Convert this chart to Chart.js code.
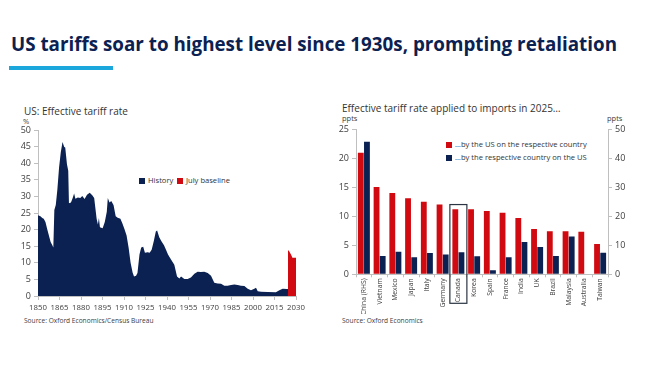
<!doctype html>
<html>
<head>
<meta charset="UTF-8">
<title>US tariffs</title>
<script src="https://cdn.jsdelivr.net/npm/chart.js@4.4.1/dist/chart.umd.min.js"></script>
<style>
	body { margin: 0; width: 650px; height: 365px; background: #fff; position: relative; overflow: hidden; font-family: "Open Sans", sans-serif; color: #404040; }
	.abs { position: absolute; white-space: nowrap; }
	#headline { left: 11px; top: 34px; font-size: 20px; line-height: 20px; font-weight: 700; color: #0b2151; transform-origin: left center; }
	#bar { left: 9px; top: 66px; width: 104px; height: 4px; background: #1ba6dc; }
	.sub { font-size: 10px; line-height: 12px; color: #333; }
	.unit { font-size: 7.5px; line-height: 8px; color: #404040; }
	.src { font-size: 6.6px; line-height: 8px; color: #404040; }
	.leg { font-size: 7.6px; line-height: 10px; color: #333; }
	.sq { display: inline-block; width: 6px; height: 6px; margin-right: 3px; vertical-align: -0.5px; }
	canvas { position: absolute; }
</style>
</head>
<body>
<div id="headline" class="abs">US tariffs soar to highest level since 1930s, prompting retaliation</div>
<div id="bar" class="abs"></div>

<div class="abs sub" style="left:24px; top:105px;">US: Effective tariff rate</div>
<div class="abs unit" style="left:23px; top:117px;">%</div>
<div class="abs leg" style="left:139px; top:175px;"><span class="sq" style="background:#0b2151"></span>History</div>
<div class="abs leg" style="left:177px; top:175px;"><span class="sq" style="background:#d10a11"></span>July baseline</div>
<div class="abs src" style="left:24px; top:317px;">Source: Oxford Economics/Census Bureau</div>
<canvas id="left-chart" width="322" height="195" style="left:0; top:120px;"></canvas>

<div class="abs sub" style="left:342px; top:102px;">Effective tariff rate applied to imports in 2025…</div>
<div class="abs unit" style="left:342px; top:114px;">ppts</div>
<div class="abs unit" style="left:607px; top:114px;">ppts</div>
<div class="abs leg" style="left:446px; top:139px;"><span class="sq" style="background:#d10a11"></span>…by the US on the respective country</div>
<div class="abs leg" style="left:446px; top:152px;"><span class="sq" style="background:#0b2151"></span>…by the respective country on the US</div>
<div class="abs src" style="left:342px; top:317px;">Source: Oxford Economics</div>
<canvas id="right-chart" width="320" height="194" style="left:330px; top:120px;"></canvas>

<script>
	// left chart: effective tariff rate, %
	var histYears = [1850, 1851.7, 1853, 1854, 1855.2, 1856.4, 1857.6, 1858.8, 1860, 1860.7, 1861.4, 1862.4, 1863.5, 1864.7, 1865.9, 1867.1, 1868.3, 1869, 1870.2, 1871.1, 1871.6, 1873, 1874.2, 1875.2, 1876.1, 1877.8, 1879.5, 1880.9, 1882.5, 1884.2, 1886.1, 1888, 1889.2, 1890.9, 1891.8, 1892.5, 1893.2, 1895.1, 1896.6, 1898, 1898.7, 1899.9, 1901.1, 1902.7, 1904.2, 1905.6, 1907.5, 1908.9, 1910.3, 1911.8, 1913.2, 1914.6, 1916, 1917, 1918.4, 1919.4, 1920.8, 1922, 1923.4, 1924.6, 1926.5, 1927.9, 1929.3, 1930.8, 1932.2, 1933.1, 1934.6, 1936, 1937.9, 1939.3, 1940.7, 1942.8, 1945.1, 1947, 1948.6, 1949.8, 1952.1, 1954.4, 1956.7, 1959.1, 1961.4, 1963.7, 1966, 1968.4, 1970.7, 1973, 1975.3, 1977.7, 1980, 1982.3, 1984.7, 1987, 1989.3, 1991.6, 1994, 1996.3, 1998.6, 2000.9, 2002.1, 2003.3, 2005.6, 2010.2, 2016, 2018.4, 2020.7, 2023.7, 2024.4];
	var histValues = [24.3, 24.0, 23.5, 23.3, 22.3, 20.2, 18.2, 16.3, 15.3, 14.6, 25.9, 27.4, 32.0, 38.7, 43.3, 46.4, 44.9, 44.7, 39.7, 37.7, 27.9, 28.2, 29.5, 30.9, 29.3, 29.7, 29.5, 30.1, 29.2, 30.5, 31.1, 30.3, 29.5, 23.3, 21.5, 23.5, 20.7, 20.4, 22.3, 25.4, 29.5, 28.2, 28.6, 27.4, 24.0, 23.6, 23.3, 21.8, 20.2, 18.2, 14.6, 10.0, 7.1, 5.9, 6.1, 6.9, 12.5, 14.6, 14.8, 13.0, 13.2, 13.0, 13.9, 16.6, 19.4, 19.7, 17.7, 16.6, 15.3, 13.9, 12.5, 11.0, 9.4, 5.9, 5.3, 5.9, 5.1, 5.1, 5.6, 6.7, 7.3, 7.2, 7.3, 6.9, 6.1, 4.0, 3.8, 3.7, 3.1, 3.1, 3.3, 3.5, 3.3, 3.1, 3.0, 2.2, 1.7, 2.2, 2.5, 1.4, 1.3, 1.2, 1.1, 1.7, 2.2, 2.1, 2.1];
	var baseYears = [2024.4, 2025, 2026.5, 2027.5, 2030];
	var baseValues = [13.8, 13.6, 12.5, 11.5, 11.5];

	// right chart: tariff rates in 2025, ppts
	var countries = ['China (RHS)', 'Vietnam', 'Mexico', 'Japan', 'Italy', 'Germany', 'Canada', 'Korea', 'Spain', 'France', 'India', 'UK', 'Brazil', 'Malaysia', 'Australia', 'Taiwan'];
	var usOnCountry = [20.9, 15.0, 14.0, 13.1, 12.5, 12.0, 11.2, 11.2, 10.9, 10.6, 9.7, 7.8, 7.4, 7.4, 7.3, 5.2];
	var countryOnUs = [45.6, 6.3, 7.8, 5.9, 7.3, 6.8, 7.6, 6.2, 1.4, 5.9, 11.1, 9.4, 6.3, 13.0, 0, 7.4];
	var highlighted = 'Canada';

	var navy = '#0b2151';
	var red = '#d10a11';
	var axisGrey = '#bfbfbf';
	var tickFont = { family: '"Open Sans", sans-serif', size: 9 };

	// squeeze headline to the width it has in the picture
	var hl = document.getElementById('headline');
	hl.style.transform = 'scaleX(' + (606 / hl.getBoundingClientRect().width) + ')';

	function toPoints(xs, ys) {
		return xs.map(function (x, i) { return { x: x, y: ys[i] }; });
	}

	new Chart(document.getElementById('left-chart').getContext('2d'), {
		type: 'line',
		data: {
			datasets: [
				{ label: 'History', data: toPoints(histYears, histValues), fill: 'origin', backgroundColor: navy, borderWidth: 0, pointRadius: 0 },
				{ label: 'July baseline', data: toPoints(baseYears, baseValues), fill: 'origin', backgroundColor: red, borderWidth: 0, pointRadius: 0 }
			]
		},
		options: {
			responsive: false,
			animation: false,
			layout: { padding: { top: 10, right: 26 } },
			plugins: { legend: { display: false }, tooltip: { enabled: false } },
			scales: {
				x: {
					type: 'linear', min: 1850, max: 2030,
					ticks: { stepSize: 15, autoSkip: false, color: '#404040', font: { family: '"Open Sans", sans-serif', size: 7.8 }, padding: 3, maxRotation: 0, callback: function (v) { return String(v); } },
					grid: { drawOnChartArea: false, tickLength: 4, color: axisGrey },
					border: { color: axisGrey },
					afterFit: function (s) { s.height = 19; }
				},
				y: {
					min: 0, max: 50,
					ticks: { stepSize: 5, color: '#404040', font: tickFont, padding: 3 },
					grid: { drawOnChartArea: false, tickLength: 4, color: axisGrey },
					border: { color: axisGrey },
					afterFit: function (s) { s.width = 38; }
				}
			}
		}
	});

	var boxPlugin = {
		id: 'boxPlugin',
		afterDraw: function (chart) {
			var xs = chart.scales.x;
			var i = countries.indexOf(highlighted);
			var cx = xs.getPixelForValue(i);
			var w = xs.width / countries.length;
			var top = chart.scales.y.getPixelForValue(12);
			var bottom = chart.chartArea.bottom + 29;
			var ctx = chart.ctx;
			ctx.save();
			ctx.strokeStyle = '#2a3442';
			ctx.lineWidth = 1.2;
			ctx.strokeRect(cx - w * 0.54, top, w * 1.08, bottom - top);
			ctx.restore();
		}
	};

	new Chart(document.getElementById('right-chart').getContext('2d'), {
		type: 'bar',
		data: {
			labels: countries,
			datasets: [
				{ label: '…by the US on the respective country', data: usOnCountry, backgroundColor: red, yAxisID: 'y', categoryPercentage: 0.78, barPercentage: 0.95 },
				{ label: '…by the respective country on the US', data: countryOnUs, backgroundColor: navy, yAxisID: 'y2', categoryPercentage: 0.78, barPercentage: 0.95 }
			]
		},
		options: {
			responsive: false,
			animation: false,
			layout: { padding: { top: 9 } },
			plugins: { legend: { display: false }, tooltip: { enabled: false } },
			scales: {
				x: {
					ticks: { color: '#404040', font: { family: '"Open Sans", sans-serif', size: 6.8 }, minRotation: 90, maxRotation: 90, autoSkip: false, padding: 1 },
					grid: { drawOnChartArea: false, tickLength: 3, color: axisGrey, offset: true },
					border: { color: axisGrey },
					afterFit: function (s) { s.height = 39.7; }
				},
				y: {
					position: 'left', min: 0, max: 25,
					ticks: { stepSize: 5, color: '#404040', font: tickFont, padding: 3 },
					grid: { drawOnChartArea: false, tickLength: 4, color: axisGrey },
					border: { color: axisGrey },
					afterFit: function (s) { s.width = 26; }
				},
				y2: {
					position: 'right', min: 0, max: 50,
					ticks: { stepSize: 10, color: '#404040', font: tickFont, padding: 3 },
					grid: { drawOnChartArea: false, tickLength: 4, color: axisGrey },
					border: { color: axisGrey },
					afterFit: function (s) { s.width = 42; }
				}
			}
		},
		plugins: [boxPlugin]
	});
</script>
</body>
</html>
